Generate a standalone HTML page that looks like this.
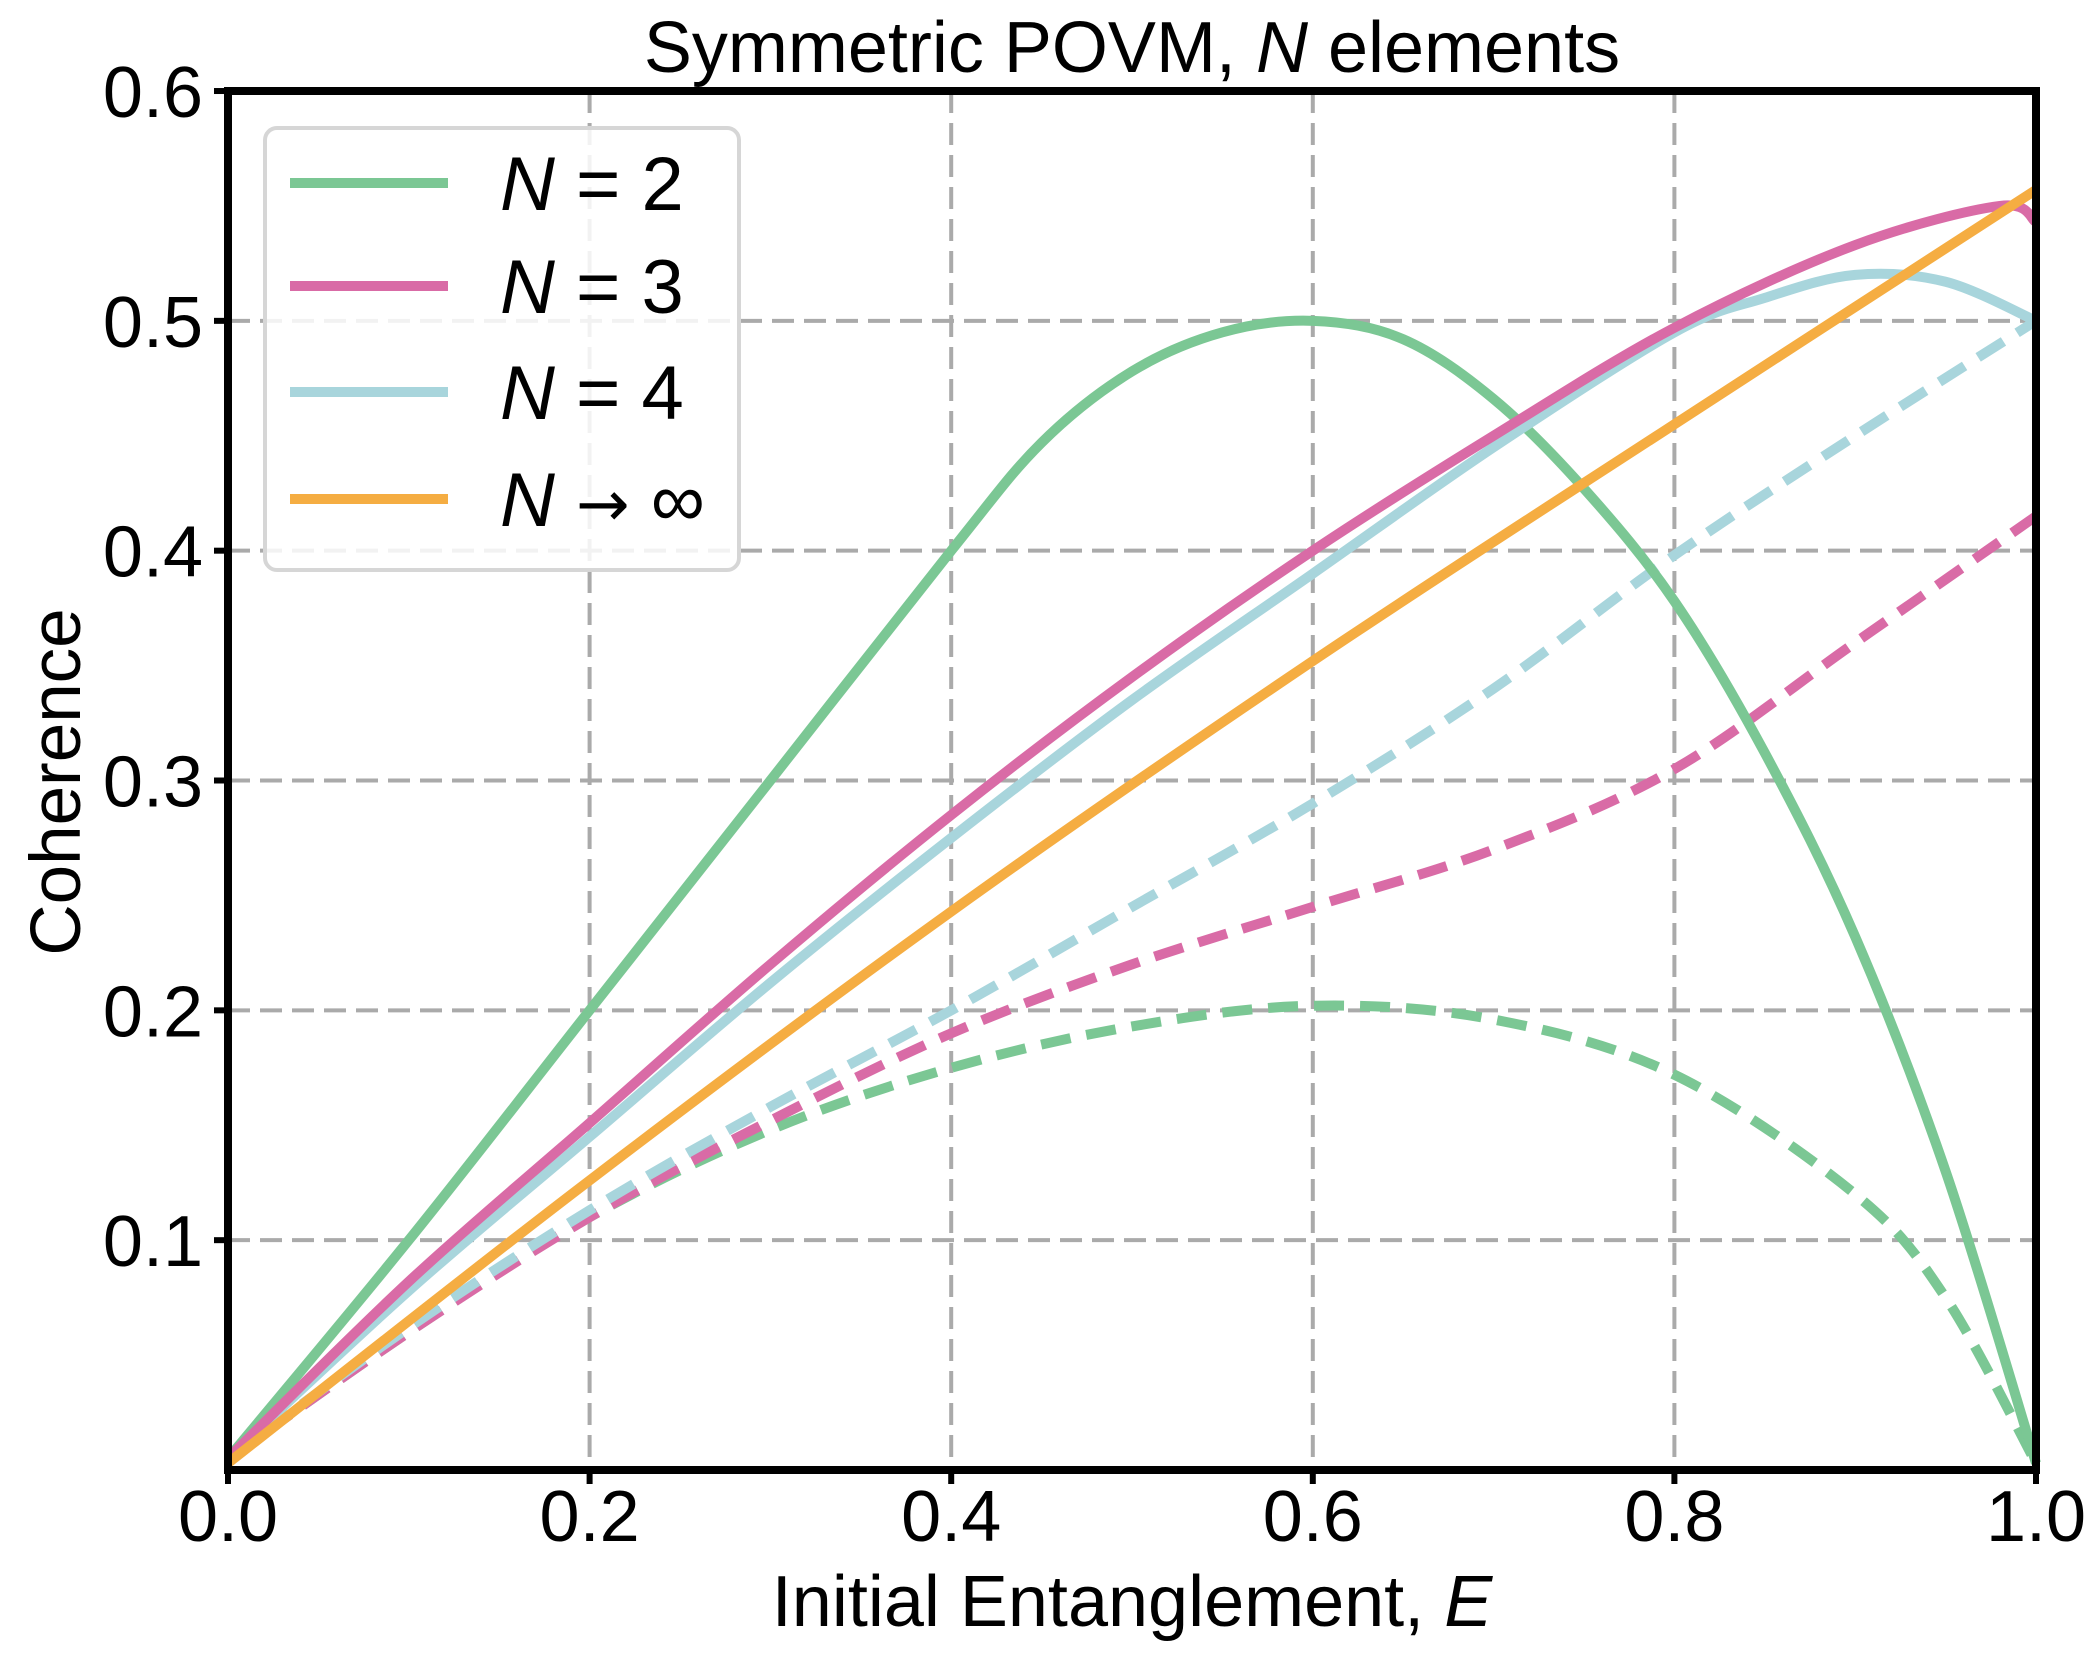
<!DOCTYPE html>
<html><head><meta charset="utf-8"><style>
html,body{margin:0;padding:0;background:#fff}
svg{display:block}
text{font-family:"Liberation Sans",sans-serif;fill:#000}
</style></head><body>
<svg id="s" width="2098" height="1661" viewBox="0 0 2098 1661" xmlns="http://www.w3.org/2000/svg">
<rect width="2098" height="1661" fill="#fff"/>
<g id="grid" stroke="#aaaaaa" stroke-width="4" stroke-dasharray="22,10" fill="none"></g>
<g id="curves" fill="none" stroke-width="10" stroke-linejoin="round"></g>
<rect x="228" y="91" width="1808" height="1379" fill="none" stroke="#000" stroke-width="8"/>
<g id="ticks" stroke="#000" stroke-width="6"></g>
<g id="labels" font-size="72"></g>
<text x="1132" y="72" font-size="72" text-anchor="middle">Symmetric POVM, <tspan font-style="italic">N</tspan> elements</text>
<text x="1132" y="1626" font-size="72" text-anchor="middle">Initial Entanglement, <tspan font-style="italic">E</tspan></text>
<text transform="translate(80,782) rotate(-90)" font-size="71" text-anchor="middle">Coherence</text>
<rect x="265" y="128" width="474" height="442" rx="12" fill="#fff" fill-opacity="0.85" stroke="#d6d6d6" stroke-width="4"/>
<g stroke-width="10">
<line x1="290" y1="183" x2="448" y2="183" stroke="#7bc794"/>
<line x1="290" y1="286" x2="448" y2="286" stroke="#d96ba6"/>
<line x1="290" y1="392" x2="448" y2="392" stroke="#a8d5dc"/>
<line x1="290" y1="499" x2="448" y2="499" stroke="#f5ad42"/>
</g>
<g font-size="76">
<text x="500" y="210"><tspan font-style="italic">N</tspan> = 2</text>
<text x="500" y="313"><tspan font-style="italic">N</tspan> = 3</text>
<text x="500" y="419"><tspan font-style="italic">N</tspan> = 4</text>
<text x="500" y="526"><tspan font-style="italic">N</tspan> <tspan font-family="DejaVu Sans" font-size="64">→</tspan> ∞</text>
</g>
</svg>
<script>
const X=e=>228+1808*e, Y=c=>1470-2298.3*c;
const ns="http://www.w3.org/2000/svg";
function el(p,t,a){const n=document.createElementNS(ns,t);for(const k in a)n.setAttribute(k,a[k]);document.getElementById(p).appendChild(n);return n;}
for(let i=1;i<5;i++){el("grid","line",{x1:X(i*0.2),y1:91,x2:X(i*0.2),y2:1470});}
for(let i=1;i<6;i++){el("grid","line",{x1:228,y1:Y(i*0.1),x2:2036,y2:Y(i*0.1)});}
for(let i=0;i<=5;i++){el("ticks","line",{x1:X(i*0.2),y1:1470,x2:X(i*0.2),y2:1484});
 const t=el("labels","text",{x:X(i*0.2),y:1541,"text-anchor":"middle"});t.textContent=(i*0.2).toFixed(1);}
for(let i=1;i<=6;i++){el("ticks","line",{x1:214,y1:Y(i*0.1),x2:228,y2:Y(i*0.1)});
 const t=el("labels","text",{x:203,y:Y(i*0.1)+26,"text-anchor":"end"});t.textContent=(i*0.1).toFixed(1);}
function path(pts){const P=pts.map(p=>[X(p[0]),Y(p[1])]);let d="M"+P[0][0]+","+P[0][1];
 for(let i=0;i<P.length-1;i++){const p0=P[i-1]||P[i],p1=P[i],p2=P[i+1],p3=P[i+2]||P[i+1];
 d+=" C"+(p1[0]+(p2[0]-p0[0])/6)+","+(p1[1]+(p2[1]-p0[1])/6)+" "+(p2[0]-(p3[0]-p1[0])/6)+","+(p2[1]-(p3[1]-p1[1])/6)+" "+p2[0]+","+p2[1];}
 return d;}
const G="#7bc794",P="#d96ba6",B="#a8d5dc",O="#f5ad42";
const dash="30,16";
const series=[
[G,1,[[0,0.005],[0.1,0.06],[0.2,0.11],[0.3,0.148],[0.4,0.175],[0.5,0.193],[0.6,0.202],[0.7,0.196],[0.8,0.172],[0.9,0.12],[0.95,0.075],[1,0.003]]],
[P,1,[[0,0.005],[0.1,0.06],[0.2,0.11],[0.3,0.152],[0.4,0.19],[0.5,0.22],[0.6,0.245],[0.7,0.27],[0.8,0.305],[0.9,0.36],[1,0.415]]],
[B,1,[[0,0.005],[0.1,0.062],[0.2,0.113],[0.3,0.158],[0.4,0.2],[0.5,0.245],[0.6,0.29],[0.7,0.34],[0.8,0.398],[0.9,0.45],[1,0.5]]],
[G,0,[[0,0.005],[0.1,0.1],[0.2,0.2],[0.3,0.3],[0.4,0.4],[0.45,0.447],[0.5,0.478],[0.55,0.495],[0.6,0.5],[0.65,0.492],[0.7,0.466],[0.75,0.427],[0.8,0.378],[0.85,0.312],[0.9,0.232],[0.95,0.13],[1,0.003]]],
[B,0,[[0,0.005],[0.1,0.078],[0.2,0.145],[0.3,0.212],[0.4,0.275],[0.5,0.335],[0.6,0.39],[0.7,0.445],[0.8,0.495],[0.85,0.51],[0.9,0.52],[0.95,0.517],[1,0.5]]],
[P,0,[[0,0.005],[0.1,0.082],[0.2,0.151],[0.3,0.22],[0.4,0.285],[0.5,0.345],[0.6,0.4],[0.7,0.45],[0.8,0.497],[0.9,0.533],[0.98,0.55],[1,0.543]]],
[O,0,[[0,0.003],[0.2,0.126],[0.4,0.243],[0.6,0.352],[0.8,0.455],[1,0.557]]]
];
for(const [c,d,pts] of series){const a={d:path(pts),stroke:c};if(d)a["stroke-dasharray"]=dash;el("curves","path",a);}
</script>
</body></html>
